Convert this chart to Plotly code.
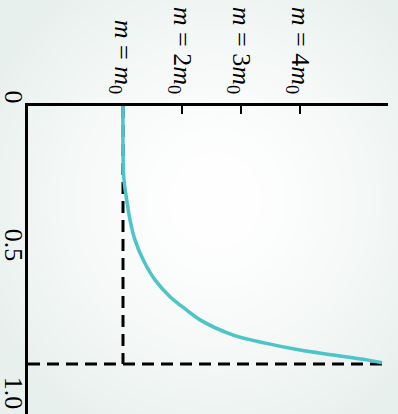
import base64, struct, zlib
import numpy as np
import plotly.graph_objects as go

# ---- data ----
velocity = [0.0, 0.171, 0.287, 0.364, 0.442, 0.519, 0.597, 0.674, 0.739, 0.791,
            0.829, 0.888, 0.920, 0.946, 0.965, 0.984, 0.995]            # v/c
mass = [1.0, 1.0, 1.017, 1.063, 1.119, 1.203, 1.344, 1.542, 1.797, 2.080,
        2.305, 2.869, 3.434, 4.0, 4.564, 5.131, 5.390]                 # m/m0
mass_ticks = [1, 2, 3, 4]
mass_tick_text = ["<i>m</i> = <i>m</i><sub>0</sub>",
                  "<i>m</i> = 2<i>m</i><sub>0</sub>",
                  "<i>m</i> = 3<i>m</i><sub>0</sub>",
                  "<i>m</i> = 4<i>m</i><sub>0</sub>"]
speed_ticks = [0, 0.5, 1.0]
speed_tick_text = ["0", "0.5", "1.0"]
rest_mass = 1.0
light_speed = 1.0

W, H = 398, 414
ML, MR, MT, MB = 28, 10, 106, 0
PW, PH = W - ML - MR, H - MT - MB
SERIF = "Liberation Serif, Times New Roman, serif"


# ---- soft radial background ----
def png_data_uri(arr):
    h, w, _ = arr.shape
    raw = b"".join(b"\x00" + arr[i].tobytes() for i in range(h))
    def chunk(t, d):
        c = struct.pack(">I", len(d)) + t + d
        return c + struct.pack(">I", zlib.crc32(t + d) & 0xffffffff)
    png = b"\x89PNG\r\n\x1a\n" + chunk(b"IHDR", struct.pack(">IIBBBBB", w, h, 8, 2, 0, 0, 0)) \
        + chunk(b"IDAT", zlib.compress(raw, 9)) + chunk(b"IEND", b"")
    return "data:image/png;base64," + base64.b64encode(png).decode()

yy, xx = np.mgrid[0:H, 0:W].astype(float)
r = np.sqrt(((xx - 215) / 250) ** 2 + ((yy - 200) / 260) ** 2)
t = np.clip(r, 0, 1) ** 1.6
edge = np.array([232, 240, 237], float)
img = (255 * (1 - t[..., None]) + edge * t[..., None]).astype(np.uint8)
bg_uri = png_data_uri(img)

fig = go.Figure()

fig.add_trace(go.Scatter(
    x=mass, y=velocity, mode="lines", line=dict(color="#4cc4c8", width=3.5, shape="spline"),
    hoverinfo="skip", showlegend=False))

# invisible trace to activate the label axis
fig.add_trace(go.Scatter(x=[mass[0]], y=[0], yaxis="y2", mode="markers",
                         marker=dict(opacity=0), hoverinfo="skip", showlegend=False))

dash = dict(color="black", width=3, dash="12px,7px")
fig.add_shape(type="line", xref="paper", x0=0, x1=1, yref="y", y0=light_speed, y1=light_speed,
              line=dash, layer="below")
fig.add_shape(type="line", xref="x", x0=rest_mass, x1=rest_mass, yref="y", y0=0, y1=light_speed,
              line=dash, layer="below")

fig.add_layout_image(dict(source=bg_uri, xref="paper", yref="paper",
                          x=-ML / PW, y=1 + MT / PH, sizex=W / PW, sizey=H / PH,
                          xanchor="left", yanchor="top", sizing="stretch", layer="below"))

px_per_m = 59.0
px_per_v = 258.0
x0 = rest_mass - (123 - ML) / px_per_m
fig.update_layout(
    width=W, height=H, margin=dict(l=ML, r=MR, t=MT, b=MB, pad=0, autoexpand=False),
    paper_bgcolor="#eef3f1", plot_bgcolor="rgba(0,0,0,0)",
    font=dict(family=SERIF, size=26, color="black"),
    xaxis=dict(side="top", range=[x0, x0 + PW / px_per_m], showgrid=False, zeroline=False,
               showline=True, linecolor="black", linewidth=2.5, automargin=False,
               ticks="inside", ticklen=8, tickwidth=2, tickcolor="black",
               tickvals=mass_ticks, ticktext=mass_tick_text, tickangle=90,
               tickfont=dict(family=SERIF, size=26, color="black"), layer="below traces"),
    yaxis=dict(range=[PH / px_per_v, 0], showgrid=False, zeroline=False, automargin=False,
               showline=True, linecolor="black", linewidth=2.5,
               showticklabels=False, ticks=""),
    yaxis2=dict(overlaying="y", side="left", range=[PH / 296.0, 0], showgrid=False,
                zeroline=False, showline=False, ticks="", automargin=False,
                tickvals=speed_ticks, ticktext=speed_tick_text, tickangle=90,
                ticklabelshift=5, ticklabelstandoff=-4,
                tickfont=dict(family=SERIF, size=26, color="black")),
)

fig.write_html("out.html", config={"displayModeBar": False},
               post_script="document.body.style.margin='0';document.body.style.padding='0';"
                           "document.body.style.overflow='hidden';")
